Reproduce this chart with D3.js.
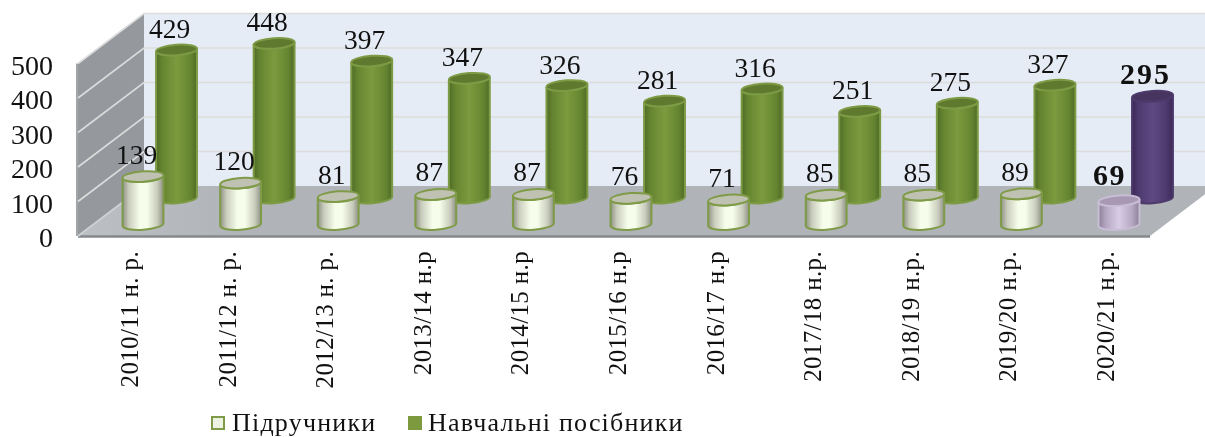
<!DOCTYPE html>
<html><head><meta charset="utf-8">
<style>html,body{margin:0;padding:0;background:#fff;overflow:hidden}svg{display:block;filter:blur(.35px)}text{font-family:"Liberation Serif",serif;fill:#111}</style>
<script src="https://cdn.jsdelivr.net/npm/d3@7/dist/d3.min.js"></script>
</head><body><svg id="c" width="1205" height="437"></svg>
<script>
const categories=["2010/11 н. р.","2011/12 н. р.","2012/13 н. р.","2013/14 н.р","2014/15 н.р","2015/16 н.р","2016/17 н.р","2017/18 н.р.","2018/19 н.р.","2019/20 н.р.","2020/21 н.р."];
const textbooks=[139,120,81,87,87,76,71,85,85,89,69];
const manuals=[429,448,397,347,326,281,316,251,275,327,295];
const yTicks=[0,100,200,300,400,500];
const legendLabels=["Підручники","Навчальні посібники"];
const svg=d3.select("#c");
const defs=svg.append("defs");
function grad(id,stops){const g=defs.append("linearGradient").attr("id",id).attr("x1",0).attr("x2",1).attr("y1",0).attr("y2",0);
 stops.forEach(([o,c])=>g.append("stop").attr("offset",o).attr("stop-color",c));}
grad("gFront",[[0,"#8d9183"],[.15,"#c9ccbc"],[.42,"#f6fdea"],[.6,"#f6fdea"],[.85,"#c9ccbc"],[1,"#8d9183"]]);
grad("gBack",[[0,"#4f6b27"],[.15,"#65842f"],[.5,"#7c9b3f"],[.85,"#65842f"],[1,"#4f6b27"]]);
grad("gFrontH",[[0,"#8c7f97"],[.18,"#b5a7c2"],[.5,"#d9cde6"],[.82,"#b5a7c2"],[1,"#8c7f97"]]);
grad("gBackH",[[0,"#3c2a58"],[.18,"#503b70"],[.5,"#5f4982"],[.82,"#503b70"],[1,"#3c2a58"]]);
const fl=defs.append("linearGradient").attr("id","gFloor").attr("x1",0).attr("x2",1).attr("y1",0).attr("y2",0);
fl.append("stop").attr("offset",0).attr("stop-color","#bcc0c4");fl.append("stop").attr("offset",.15).attr("stop-color","#b0b4b8");

const h=d3.scaleLinear().domain([0,500]).range([0,172.5]);
const x=d3.scalePoint().domain(categories).range([143,1119]);
const frontL=78,backL=144,frontY=236,backY=186,rightF=1150,rightB=1216;
const baseB=198,baseF=224.5;

svg.append("rect").attr("x",backL).attr("y",backY-h(500)).attr("width",rightB-backL).attr("height",h(500)).attr("fill","#e6ecf5");
svg.append("path").attr("d",`M${frontL},${frontY}L${frontL},${frontY-h(500)}L${backL},${backY-h(500)}L${backL},${backY}Z`).attr("fill","#95989d");
svg.append("path").attr("d",`M${frontL},${frontY}L${backL},${backY}L${rightB},${backY}L${rightF},${frontY}Z`).attr("fill","url(#gFloor)");
svg.append("path").attr("d",`M${frontL},${frontY+.5}L${rightF},${frontY+.5}`).attr("stroke","#85888c").attr("stroke-width",2.5);
svg.append("path").attr("d",`M${frontL-1},${frontY}L${frontL-1},${frontY-h(500)}`).attr("stroke","#85888c").attr("stroke-width",1.5);
svg.append("g").selectAll("path").data(yTicks).join("path")
 .attr("d",t=>{const d=h(t);return `M${frontL},${frontY-d}L${backL},${backY-d}`+(t?`L${rightB},${backY-d}`:"");})
 .attr("fill","none").attr("stroke",t=>t?"#dcdcdc":"#cfd2d5").attr("stroke-width",1.6);

svg.append("g").selectAll("text").data(yTicks).join("text")
 .attr("x",53).attr("y",t=>frontY-h(t)+11).attr("text-anchor","end").attr("font-size",28).text(d=>d);

const rx=20.5,ry=5.2,rot=-4,cos=Math.cos(rot*Math.PI/180),sin=Math.sin(rot*Math.PI/180);
function body(cx,base,top){const dx=rx*cos,dy=rx*sin;
 return `M${cx-dx},${top-dy}L${cx-dx},${base-dy}A${rx},${ry},${rot},0,0,${cx+dx},${base+dy}L${cx+dx},${top+dy}A${rx},${ry},${rot},0,1,${cx-dx},${top-dy}Z`;}
function cyl(g,cx,base,v,fill,stroke,topFill){const top=base-h(v);
 g.append("path").attr("d",body(cx,base,top)).attr("fill",`url(#${fill})`).attr("stroke",stroke).attr("stroke-width",2);
 g.append("ellipse").attr("rx",rx).attr("ry",ry).attr("transform",`translate(${cx},${top}) rotate(${rot})`).attr("fill",topFill).attr("stroke",stroke).attr("stroke-width",2);}

const lastI=categories.length-1;
const gB=svg.append("g"),gF=svg.append("g");
manuals.forEach((v,i)=>cyl(gB,x(categories[i])+33.5,baseB,v,i==lastI?"gBackH":"gBack",i==lastI?"#4d3a6b":"#7d9a45",i==lastI?"#47345f":"#5f7a2f"));
textbooks.forEach((v,i)=>cyl(gF,x(categories[i]),baseF,v,i==lastI?"gFrontH":"gFront",i==lastI?"#c8bdd6":"#7f9b47",i==lastI?"#a898b3":"#bfc1b2"));

const lab=svg.append("g");
manuals.forEach((v,i)=>lab.append("text").attr("x",x(categories[i])+26.5).attr("y",baseB-h(v)-12)
 .attr("text-anchor","middle").attr("font-size",i==lastI?30:27.5).attr("font-weight",i==lastI?"bold":null).attr("letter-spacing",i==lastI?2:0).text(v));
textbooks.forEach((v,i)=>lab.append("text").attr("x",x(categories[i])-6.5+(i==lastI?-3:0)).attr("y",baseF-h(v)-(i==lastI?16:13))
 .attr("text-anchor","middle").attr("font-size",i==lastI?30:27.5).attr("font-weight",i==lastI?"bold":null).attr("letter-spacing",i==lastI?1.5:0).text(v));

svg.append("g").selectAll("text").data(categories).join("text")
 .attr("transform",d=>`translate(${x(d)-5},251) rotate(-90)`).attr("text-anchor","end").attr("font-size",25).attr("letter-spacing",.35).text(d=>d);

const lg=svg.append("g");
[[211,232,"#eef2e2","#7f9b47"],[408,428,"#7d9a3f","#7d9a3f"]].forEach(([sx,tx,f,s],i)=>{
 lg.append("rect").attr("x",sx+1).attr("y",417).attr("width",12).attr("height",12).attr("fill",f).attr("stroke",s).attr("stroke-width",2);
 lg.append("text").attr("x",tx).attr("y",431).attr("font-size",26).attr("letter-spacing",1.2).text(legendLabels[i]);
});
</script></body></html>
